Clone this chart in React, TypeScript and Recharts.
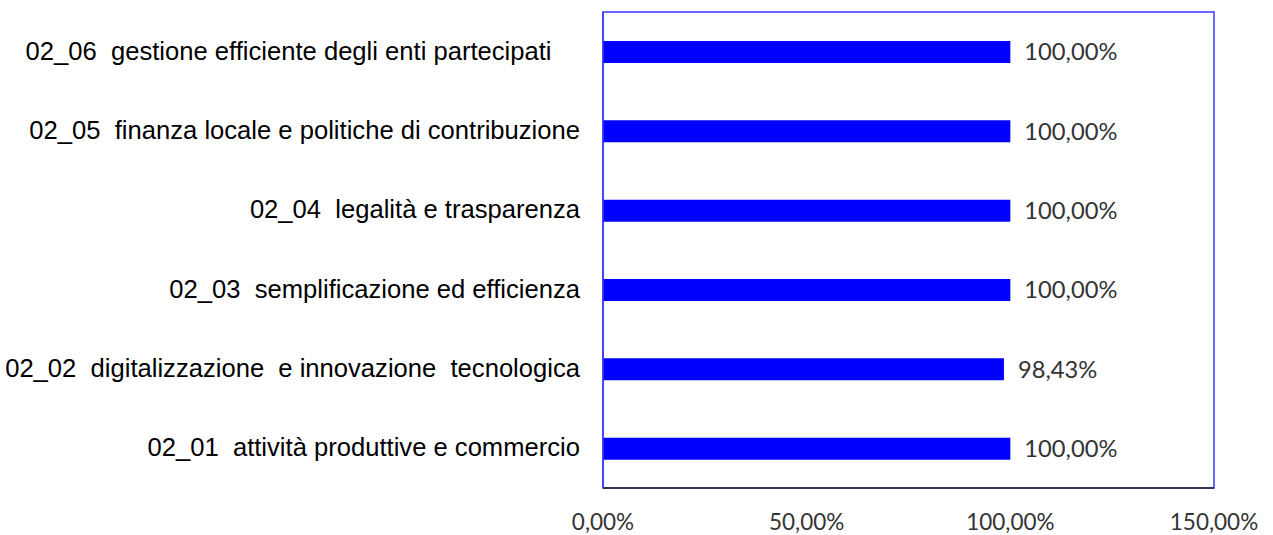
import { BarChart, Bar, XAxis, YAxis, LabelList, ReferenceArea } from 'recharts'

const categories = [
  '02_06  gestione efficiente degli enti partecipati    ',
  '02_05  finanza locale e politiche di contribuzione',
  '02_04  legalità e trasparenza',
  '02_03  semplificazione ed efficienza',
  '02_02  digitalizzazione  e innovazione  tecnologica',
  '02_01  attività produttive e commercio',
]
const values = [100, 100, 100, 100, 98.43, 100]
const xTicks = [0, 50, 100, 150]

const fmt = (v: number) => `${v.toFixed(2).replace('.', ',')}%`

const data = categories.map((name, i) => ({ name, value: values[i] }))

const CategoryTick = ({ x, y, payload }: any) => (
  <text
    x={x}
    y={y}
    dy={8}
    textAnchor="end"
    fill="#000"
    style={{ whiteSpace: 'pre', fontFamily: '"Liberation Sans", Arial, sans-serif', fontSize: 25.6 }}
  >
    {payload.value}
  </text>
)

export default function App() {
  return (
    <div style={{ position: 'absolute', left: 0, top: 0, background: '#fff' }}>
      <BarChart
        width={1273}
        height={535}
        data={data}
        layout="vertical"
        margin={{ top: 12, right: 59, bottom: 0, left: 0 }}
      >
        <ReferenceArea x1={0} x2={150} stroke="#3a3aff" strokeWidth={1.5} fill="none" fillOpacity={0} />
        <XAxis
          type="number"
          domain={[0, 150]}
          ticks={xTicks}
          tickFormatter={fmt}
          tickSize={0}
          tickMargin={26}
          axisLine={{ stroke: '#222', strokeWidth: 1.5 }}
          tick={{ fill: '#333', fontSize: 22.5, fontFamily: 'Lato, sans-serif' }}
          height={47}
        />
        <YAxis
          type="category"
          dataKey="name"
          width={603}
          tickSize={0}
          tickMargin={23}
          axisLine={{ stroke: '#3a3aff', strokeWidth: 1.5 }}
          tick={<CategoryTick />}
        />
        <Bar dataKey="value" fill="#0000ff" barSize={22} isAnimationActive={false}>
          <LabelList
            dataKey="value"
            position="right"
            offset={14}
            formatter={(v: any) => fmt(Number(v))}
            style={{ fill: '#333', fontSize: 23.7, fontFamily: 'Lato, sans-serif' }}
          />
        </Bar>
      </BarChart>
    </div>
  )
}
